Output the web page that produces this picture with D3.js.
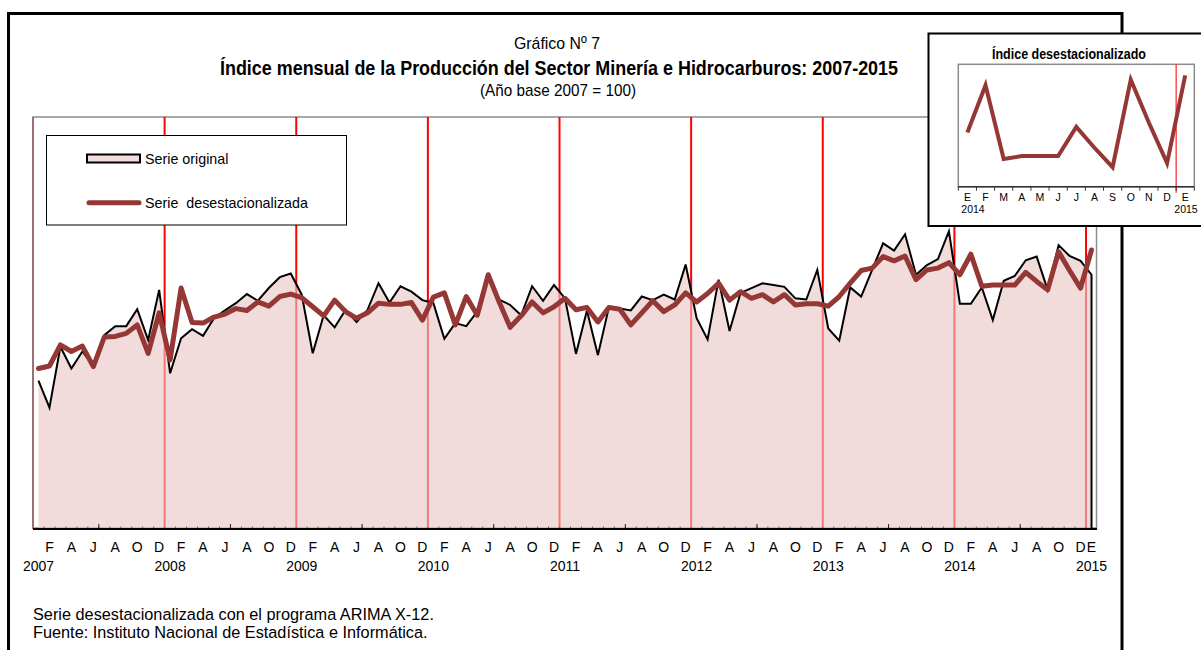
<!DOCTYPE html>
<html><head><meta charset="utf-8">
<script src="https://cdn.jsdelivr.net/npm/d3@7"></script>
<style>
body{margin:0;background:#fff}
svg{display:block}
text{font-family:"Liberation Sans",Arial,sans-serif;fill:#000}
.narrow{font-family:"Liberation Sans Narrow","Arial Narrow","Liberation Sans",Arial,sans-serif}
</style>
</head><body>
<svg id="c" width="1201" height="650"></svg>
<script>
// ---------- data ----------
const startYear = 2007;
const monthLetters = ["E","F","M","A","M","J","J","A","S","O","N","D"];
const original = [
 94.4, 89.9,100.0, 96.4, 99.2, 96.8,101.9,103.4,103.4,106.2,101.1,109.4,
 95.6,101.4,102.9,101.8,104.7,106.0,107.2,108.7,107.6,109.7,111.5,112.1,
108.6, 98.9,105.2,103.2,106.1,104.1,106.1,110.5,107.3,110.0,109.1,107.7,
107.2,101.3,103.9,103.4,105.8,111.6,107.8,106.9,105.2,110.0,107.6,110.2,
108.0, 98.8,106.0, 98.6,106.5,106.3,106.0,108.3,107.7,108.6,107.8,113.6,
104.7,101.2,111.1,102.6,108.9,109.7,110.5,110.2,109.9,108.0,107.8,112.7,
103.0,101.0,109.8,108.3,112.7,117.1,115.9,118.6,111.9,113.5,114.5,119.1,
107.1,107.1,109.8,104.4,110.9,111.7,114.3,114.9,109.4,116.8,115.0,114.2,
111.9];
const desest = [
 96.4, 96.8,100.3, 99.2,100.1, 96.7,101.6,101.7,102.2,103.6, 98.9,105.6,
 97.8,109.7,104.0,103.9,104.9,105.4,106.3,106.0,107.4,106.7,108.3,108.7,
108.1,106.6,105.1,107.7,105.8,104.7,105.6,107.2,107.0,107.0,107.3,104.4,
108.2,108.9,103.6,108.3,105.2,111.9,107.4,103.2,105.1,107.4,105.6,106.6,
108.0,106.1,106.5,104.1,106.5,106.2,103.6,105.6,107.6,105.8,106.9,108.9,
107.4,108.8,110.5,107.7,109.1,108.0,108.6,107.4,108.6,106.9,107.1,107.1,
106.7,108.3,110.5,112.6,113.0,114.9,114.2,115.0,111.1,112.7,113.0,113.9,
111.9,115.3,110.0,110.2,110.2,110.2,112.3,110.8,109.4,115.7,112.6,109.7,
116.0];
const insetStart = 84; // Enero 2014
const insetMonths = ["E","F","M","A","M","J","J","A","S","O","N","D","E"];
const insetYears = ["2014","2015"];

const categories = original.map((v,i)=>({i, year:startYear+Math.floor(i/12), month:i%12}));

// ---------- chart ----------
const svg = d3.select("#c");
const L=33, R=1097, T=117, B=528;
const x = d3.scaleBand().domain(d3.range(categories.length)).range([L,R]).padding(0);
const y = d3.scaleLinear().domain([70,138]).range([B,T]);
const cx = i => x(i) + x.bandwidth()/2;
const last = original.length-1;

// outer frame
svg.append("rect").attr("x",8.5).attr("y",13.5).attr("width",1113.5).attr("height",700)
  .attr("fill","none").attr("stroke","#000").attr("stroke-width",3);

// plot border
svg.append("rect").attr("x",L).attr("y",T).attr("width",R-L-0.5).attr("height",B-T)
  .attr("fill","none").attr("stroke","#8c8c8c").attr("stroke-width",1.5);

// year separators
const janIdx = categories.filter(c=>c.month===0 && c.i>0).map(c=>c.i);
svg.append("g").selectAll("line").data(janIdx).join("line")
  .attr("x1",d=>x(d)).attr("x2",d=>x(d)).attr("y1",T).attr("y2",B)
  .attr("stroke","#ff0000").attr("stroke-width",2);
svg.append("line").attr("x1",L).attr("x2",L).attr("y1",T).attr("y2",B+1)
  .attr("stroke","#9a7070").attr("stroke-width",2);

// area (original series)
const area = d3.area().x((d,i)=>cx(i)).y0(B).y1(d=>y(d));
svg.append("path").datum(original).attr("d",area)
  .attr("fill","rgb(233,199,197)").attr("fill-opacity",0.62);

// original outline
const line = d3.line().x((d,i)=>cx(i)).y(d=>y(d));
svg.append("path")
  .attr("d", line(original) + "L" + cx(last) + "," + B)
  .attr("fill","none").attr("stroke","#000").attr("stroke-width",2);

// seasonally adjusted
svg.append("path").datum(desest).attr("d",line)
  .attr("fill","none").attr("stroke","#953735").attr("stroke-width",5)
  .attr("stroke-linejoin","round").attr("stroke-linecap","round");

// axis line + ticks
svg.append("line").attr("x1",L).attr("x2",R).attr("y1",B+1).attr("y2",B+1)
  .attr("stroke","#000").attr("stroke-width",2);
const allBounds = d3.range(1, categories.length);
svg.append("g").selectAll("line").data(allBounds).join("line")
  .attr("x1",d=>x(d)).attr("x2",d=>x(d)).attr("y1",B).attr("y2",B-1.5)
  .attr("stroke","#666").attr("stroke-width",1);
const julIdx = categories.filter(c=>c.month===6).map(c=>c.i);
svg.append("g").selectAll("line").data(julIdx).join("line")
  .attr("x1",d=>x(d)).attr("x2",d=>x(d)).attr("y1",B).attr("y2",B-4)
  .attr("stroke","#222").attr("stroke-width",1);

// month labels
const monthIdx = categories.filter(c=>c.month%2===1 || c.i===last).map(c=>c.i);
const ax1 = svg.append("g").attr("transform",`translate(0,${B})`)
  .call(d3.axisBottom(x).tickValues(monthIdx).tickFormat(i=>monthLetters[categories[i].month]).tickSize(0));
ax1.select(".domain").remove();
ax1.selectAll("text").attr("font-size",14).attr("font-family",null).attr("dy",null).attr("y",24);
// year labels
const yearIdx = categories.filter(c=>c.month===0).map(c=>c.i);
const ax2 = svg.append("g").attr("transform",`translate(0,${B})`)
  .call(d3.axisBottom(x).tickValues(yearIdx).tickFormat(i=>String(categories[i].year)).tickSize(0));
ax2.select(".domain").remove();
ax2.selectAll("text").attr("font-size",14).attr("font-family",null).attr("dy",null).attr("y",43);

// titles
svg.append("text").attr("class","narrow").attr("x",557).attr("y",49).attr("text-anchor","middle")
  .attr("font-size",17).attr("textLength",86).attr("lengthAdjust","spacingAndGlyphs").text("Gráfico Nº 7");
svg.append("text").attr("class","narrow").attr("x",559).attr("y",75).attr("text-anchor","middle")
  .attr("font-size",20).attr("font-weight","bold").attr("textLength",678).attr("lengthAdjust","spacingAndGlyphs")
  .text("Índice mensual de la Producción del Sector Minería e Hidrocarburos: 2007-2015");
svg.append("text").attr("class","narrow").attr("x",558).attr("y",96).attr("text-anchor","middle")
  .attr("font-size",17).attr("textLength",156).attr("lengthAdjust","spacingAndGlyphs").text("(Año base 2007 = 100)");

// legend
const lg = svg.append("g");
lg.append("rect").attr("x",46.5).attr("y",135.5).attr("width",300).attr("height",89.5)
  .attr("fill","#fff").attr("stroke","#000").attr("stroke-width",1);
lg.append("rect").attr("x",87).attr("y",154.5).attr("width",53).attr("height",8)
  .attr("fill","#f2dcdb").attr("stroke","#000").attr("stroke-width",2);
lg.append("text").attr("x",145).attr("y",164).attr("font-size",14.3).text("Serie original");
lg.append("line").attr("x1",89).attr("x2",139).attr("y1",202.7).attr("y2",202.7)
  .attr("stroke","#953735").attr("stroke-width",5).attr("stroke-linecap","round");
lg.append("text").attr("x",145).attr("y",208).attr("font-size",14.3).style("white-space","pre").text("Serie  desestacionalizada");

// footer
svg.append("text").attr("x",33).attr("y",620).attr("font-size",16.3).text("Serie desestacionalizada con el programa ARIMA X-12.");
svg.append("text").attr("x",33).attr("y",638).attr("font-size",16.3).text("Fuente: Instituto Nacional de Estadística e Informática.");

// ---------- inset ----------
const ins = svg.append("g");
ins.append("rect").attr("x",928.5).attr("y",33.5).attr("width",280).attr("height",192.5)
  .attr("fill","#fff").attr("stroke","#000").attr("stroke-width",2);
ins.append("text").attr("class","narrow").attr("x",1069).attr("y",58.5).attr("text-anchor","middle")
  .attr("font-size",14).attr("font-weight","bold").attr("textLength",154).attr("lengthAdjust","spacingAndGlyphs")
  .text("Índice desestacionalizado");
const iData = desest.slice(insetStart);
const iL=958.3, iR=1194.3, iT=64.3, iB=186.7;
const ix = d3.scaleBand().domain(d3.range(iData.length)).range([iL,iR]).padding(0);
const iy = d3.scaleLinear().domain([108,116.8]).range([iB,iT]);
ins.append("rect").attr("x",iL).attr("y",iT).attr("width",iR-iL).attr("height",iB-iT)
  .attr("fill","none").attr("stroke","#8c8c8c").attr("stroke-width",1.5);
ins.append("line").attr("x1",ix(12)).attr("x2",ix(12)).attr("y1",iT).attr("y2",iB+6)
  .attr("stroke","#ff2020").attr("stroke-width",1.2);
ins.append("path").datum(iData)
  .attr("d",d3.line().x((d,i)=>ix(i)+ix.bandwidth()/2).y(d=>iy(d)))
  .attr("fill","none").attr("stroke","#953735").attr("stroke-width",4).attr("stroke-linejoin","miter");
ins.append("line").attr("x1",iL).attr("x2",iR).attr("y1",iB).attr("y2",iB).attr("stroke","#333").attr("stroke-width",1.5);
const bounds = d3.range(iData.length+1);
ins.append("g").selectAll("line").data(bounds).join("line")
  .attr("x1",d=>iL+d*ix.bandwidth()).attr("x2",d=>iL+d*ix.bandwidth()).attr("y1",iB).attr("y2",iB+4)
  .attr("stroke","#333").attr("stroke-width",1);
const ax3 = ins.append("g").attr("transform",`translate(0,${iB})`)
  .call(d3.axisBottom(ix).tickFormat(i=>insetMonths[i]).tickSize(0));
ax3.select(".domain").remove();
ax3.selectAll("text").attr("font-size",10.5).attr("font-family",null).attr("dy",null).attr("y",14);
ins.append("text").attr("x",973).attr("y",213).attr("text-anchor","middle").attr("font-size",10.5).text(insetYears[0]);
ins.append("text").attr("x",1186).attr("y",213).attr("text-anchor","middle").attr("font-size",10.5).text(insetYears[1]);
</script>
</body></html>
